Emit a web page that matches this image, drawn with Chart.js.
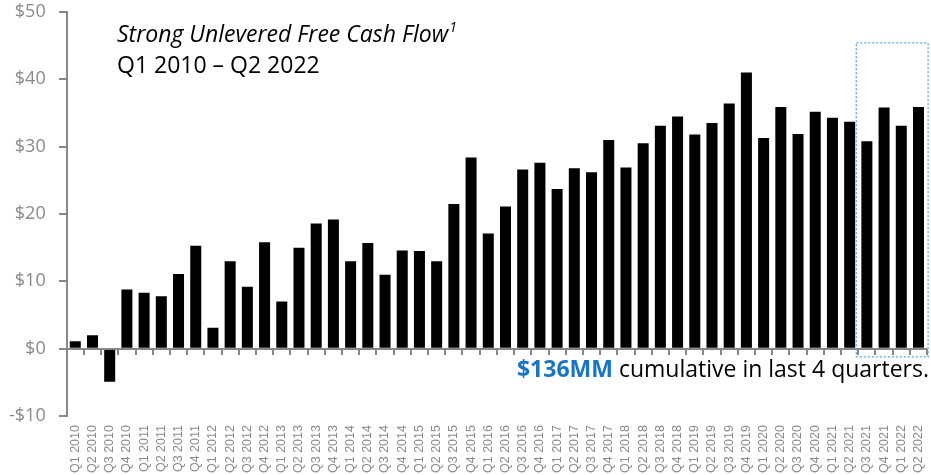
<!DOCTYPE html>
<html><head><meta charset="utf-8">
<script src="https://cdn.jsdelivr.net/npm/chart.js@4/dist/chart.umd.min.js"></script>
<style>html,body{margin:0;padding:0;background:#fff}#wrap{width:931px;height:475px;position:relative}</style>
</head><body><div id="wrap"><canvas id="c" width="931" height="475"></canvas></div>
<script>
const quarters = [];
for (let yr = 2010; yr <= 2022; yr++) for (let q = 1; q <= 4; q++) { if (yr === 2022 && q > 2) break; quarters.push('Q' + q + ' ' + yr); }
const ufcf = [1.1, 2.0, -4.9, 8.8, 8.3, 7.8, 11.1, 15.3, 3.1, 13.0, 9.2, 15.8, 7.0, 15.0, 18.6, 19.2,
  13.0, 15.7, 11.0, 14.6, 14.5, 13.0, 21.5, 28.4, 17.1, 21.1, 26.6, 27.6, 23.7, 26.8, 26.2, 31.0,
  26.9, 30.5, 33.1, 34.5, 31.8, 33.5, 36.4, 41.0, 31.3, 35.9, 31.9, 35.2, 34.3, 33.7, 30.8, 35.8, 33.1, 35.9];
const yMin = -10, yMax = 50, yStep = 10;
const titleLine1 = 'Strong Unlevered Free Cash Flow';
const titleSup = '1';
const titleLine2 = 'Q1 2010 \u2013 Q2 2022';
const noteBold = '$136MM';
const noteRest = ' cumulative in last 4 quarters.';
const highlightFrom = 46; // first of last 4 quarters
const highlightRange = [-1.2, 45.4];

const overlay = {
  id: 'overlay',
  afterDraw(chart) {
    const ctx = chart.ctx, xs = chart.scales.x, ys = chart.scales.y, ca = chart.chartArea;
    ctx.save();
    const half = (xs.getPixelForValue(1) - xs.getPixelForValue(0)) / 2;
    // axis lines and tick marks
    ctx.fillStyle = '#878787';
    const ax = Math.round(ca.left);
    const yTop = Math.round(ys.getPixelForValue(yMax)), yBot = Math.round(ys.getPixelForValue(yMin));
    ctx.fillRect(ax - 1, yTop - 1, 2, yBot - yTop + 2);
    for (let v = yMin; v <= yMax; v += yStep) { const py = Math.round(ys.getPixelForValue(v)); ctx.fillRect(ax - 8, py - 1, 8, 2); }
    const zy = Math.round(ys.getPixelForValue(0));
    ctx.fillRect(ax, zy - 1, Math.round(ca.right) - ax, 2);
    for (let i = 0; i <= quarters.length; i++) {
      const px = Math.round(xs.getPixelForValue(i) - half);
      ctx.fillRect(px - 1, zy, 2, 6);
    }
    // highlight box
    const l = xs.getPixelForValue(highlightFrom) - half - 2;
    const r = xs.getPixelForValue(quarters.length - 1) + half + 1;
    const t = ys.getPixelForValue(highlightRange[1]);
    const b = ys.getPixelForValue(highlightRange[0]);
    ctx.strokeStyle = '#5aa5dc'; ctx.lineWidth = 1.3; ctx.setLineDash([2, 2]);
    ctx.strokeRect(l, t, r - l, b - t);
    ctx.setLineDash([]);
    // titles
    ctx.fillStyle = '#000'; ctx.textBaseline = 'alphabetic'; ctx.textAlign = 'left';
    ctx.font = 'italic 23px "Open Sans"';
    ctx.fillText(titleLine1, 117, 42);
    const w1 = ctx.measureText(titleLine1).width;
    ctx.font = 'italic 14px "Open Sans"';
    ctx.fillText(titleSup, 117 + w1 + 1, 32);
    ctx.font = '23px "Open Sans"';
    ctx.fillText(titleLine2, 117, 73);
    // note
    ctx.font = '23px "Open Sans"';
    const wr = ctx.measureText(noteRest).width;
    ctx.font = 'bold 23px "Open Sans"';
    const wb = ctx.measureText(noteBold).width;
    const xr = 929;
    ctx.fillStyle = '#1a74c4';
    ctx.fillText(noteBold, xr - wr - wb, 377);
    ctx.font = '23px "Open Sans"';
    ctx.fillStyle = '#000';
    ctx.fillText(noteRest, xr - wr, 377);
    ctx.restore();
  }
};

new Chart(document.getElementById('c'), {
  type: 'bar',
  data: { labels: quarters, datasets: [{ data: ufcf, backgroundColor: '#000', barPercentage: 0.64, categoryPercentage: 1 }] },
  options: {
    responsive: false, animation: false,
    layout: { padding: { left: 9, right: 0, top: 0, bottom: 2 } },
    plugins: { legend: { display: false }, tooltip: { enabled: false } },
    scales: {
      x: {
        position: 'bottom',
        border: { display: false },
        grid: { display: false, drawTicks: true, tickLength: 9 },
        ticks: { color: '#8a8a8a', font: { family: '"Liberation Sans"', size: 12.5, lineHeight: 1 }, minRotation: 90, maxRotation: 90, autoSkip: false, padding: 0 }
      },
      y: {
        min: yMin, max: yMax,
        border: { display: true, color: '#878787', width: 2 },
        grid: {
          display: true, drawOnChartArea: true, drawTicks: true, tickLength: 21, lineWidth: 2,
          color: c => (c.tick && c.tick.value === 0 ? '#878787' : 'rgba(255,255,255,0)'),
          tickColor: 'rgba(255,255,255,0)'
        },
        ticks: { stepSize: yStep, color: '#8a8a8a', font: { family: '"Open Sans"', size: 18, lineHeight: 1.333 }, padding: 0, callback: v => (v < 0 ? '-$' + Math.abs(v) : '$' + v) }
      }
    }
  },
  plugins: [overlay]
});
</script></body></html>
